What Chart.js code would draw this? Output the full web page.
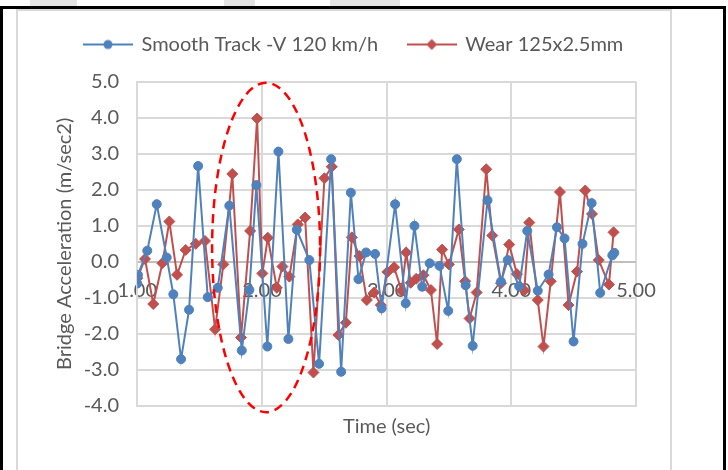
<!DOCTYPE html>
<html><head><meta charset="utf-8">
<script src="https://cdn.jsdelivr.net/npm/chart.js@4"></script>
<style>
html,body{margin:0;padding:0;background:#fff;width:728px;height:470px;overflow:hidden;}
#wrap{position:relative;width:728px;height:470px;}
.blob{position:absolute;top:0;height:7px;background:#e4e4e4;}
#frame{position:absolute;left:0;top:6px;width:726px;height:490px;border:3px solid #000;box-sizing:border-box;}
#inner{position:absolute;left:16px;top:9px;width:656px;height:490px;border:2px solid #d9d9d9;box-sizing:border-box;}
canvas{position:absolute;left:0;top:0;}
</style></head><body>
<div id="wrap">
<div class="blob" style="left:30px;width:47px"></div>
<div class="blob" style="left:224px;width:31px"></div>
<div class="blob" style="left:330px;width:70px"></div>
<div id="frame"></div><div id="inner"></div>
<canvas id="c" width="728" height="470"></canvas>
</div>
<script>
// ---- data ----
const seriesNames = ['Smooth Track -V 120 km/h', 'Wear 125x2.5mm'];
const blueTime = [1.000,1.005,1.080,1.156,1.236,1.289,1.351,1.415,1.488,1.565,1.645,1.738,1.838,1.899,1.955,2.043,2.132,2.212,2.279,2.380,2.458,2.555,2.635,2.713,2.774,2.835,2.907,2.960,3.068,3.153,3.223,3.285,3.345,3.424,3.494,3.563,3.634,3.690,3.809,3.917,3.971,4.063,4.128,4.212,4.299,4.366,4.427,4.499,4.571,4.644,4.713,4.810,4.826];
const blueAcc = [-0.60,-0.36,0.31,1.60,0.12,-0.90,-2.70,-1.33,2.66,-0.98,-0.72,1.56,-2.46,-0.78,2.13,-2.35,3.06,-2.14,0.89,0.05,-2.83,2.85,-3.05,1.92,-0.48,0.26,0.22,-1.29,1.60,-1.15,1.00,-0.69,-0.04,-0.11,-1.36,2.85,-0.65,-2.33,1.71,-0.55,0.05,-0.68,0.86,-0.80,-0.35,0.96,0.65,-2.21,0.50,1.63,-0.86,0.18,0.25];
const redTime = [1.000,1.062,1.128,1.201,1.257,1.319,1.388,1.469,1.543,1.624,1.690,1.762,1.832,1.905,1.961,2.003,2.047,2.119,2.164,2.220,2.287,2.346,2.413,2.501,2.560,2.613,2.673,2.721,2.782,2.841,2.900,2.953,3.006,3.060,3.120,3.157,3.193,3.237,3.295,3.355,3.405,3.445,3.499,3.579,3.630,3.665,3.722,3.799,3.847,3.917,3.983,4.045,4.104,4.144,4.212,4.258,4.316,4.390,4.459,4.527,4.593,4.647,4.701,4.783,4.820];
const redAcc = [-0.45,0.08,-1.17,-0.04,1.12,-0.36,0.33,0.50,0.58,-1.87,-0.07,2.44,-2.10,0.86,3.98,-0.32,0.67,-0.72,-0.13,-0.41,1.04,1.23,-3.07,2.32,2.64,-2.03,-1.69,0.68,0.16,-1.06,-0.85,-1.20,-0.28,-0.15,-0.80,0.26,-0.58,-0.47,-0.37,-0.78,-2.28,0.34,-0.07,0.90,-0.54,-1.57,-0.85,2.57,0.73,-0.59,0.48,-0.34,-0.79,1.09,-1.06,-2.35,-0.54,1.94,-1.20,-0.27,1.98,1.33,0.05,-0.63,0.82];
const xTickMin = 1, xTickMax = 5, yTickMin = -4, yTickMax = 5;
const xTitle = 'Time (sec)';
const yTitle = 'Bridge Acceleration (m/sec2)';
// highlighted region (dashed ellipse) in data units
const ellipseCenterT = 2.033, ellipseCenterV = 0.40, ellipseRadiusT = 0.433, ellipseRadiusV = 4.57;

// ---- styling ----
const BLUE = '#4F81BD', RED = '#C0504D', TXT = '#595959', GRID = '#d9d9d9';
const FONT = {family: 'Lato', size: 20};

function legendImg(color, style, r) {
  const c = document.createElement('canvas');
  c.width = 50; c.height = 14;
  const g = c.getContext('2d');
  g.strokeStyle = color; g.lineWidth = 2;
  g.beginPath(); g.moveTo(0, 7); g.lineTo(50, 7); g.stroke();
  g.fillStyle = color; g.beginPath();
  if (style === 'circle') { g.arc(25, 7, r, 0, Math.PI * 2); }
  else { g.moveTo(25, 7 - r); g.lineTo(25 + r, 7); g.lineTo(25, 7 + r); g.lineTo(25 - r, 7); g.closePath(); }
  g.fill();
  return c;
}
const legendImgs = [legendImg(BLUE, 'circle', 4.5), legendImg(RED, 'diamond', 5.5)];

const legendGap = {
  id: 'legendGap',
  beforeLayout(chart) {
    const lg = chart.legend;
    if (lg && !lg._gapPatched) {
      const orig = lg.fit;
      lg.fit = function () {
        this.maxWidth = Math.max(this.maxWidth, 900);
        orig.call(this);
        this.height += 17.2;
      };
      lg._gapPatched = true;
    }
  },
  afterLayout(chart) {
    const lg = chart.legend;
    if (lg) { lg.right = chart.width; lg.width = lg.right - lg.left; }
  }
};

const ellipseOverlay = {
  id: 'ellipseOverlay',
  afterDatasetsDraw(chart) {
    const {x, y} = chart.scales;
    const g = chart.ctx;
    const cx = x.getPixelForValue(ellipseCenterT), cy = y.getPixelForValue(ellipseCenterV);
    const rx = Math.abs(x.getPixelForValue(ellipseCenterT + ellipseRadiusT) - cx);
    const ry = Math.abs(y.getPixelForValue(ellipseCenterV + ellipseRadiusV) - cy);
    g.save();
    g.setLineDash([9, 6]);
    g.strokeStyle = '#ff0000';
    g.lineWidth = 2.5;
    g.beginPath();
    g.ellipse(cx, cy, rx, ry, 0, 0, Math.PI * 2);
    g.stroke();
    g.restore();
  }
};

new Chart(document.getElementById('c'), {
  type: 'scatter',
  data: {
    datasets: [
      {
        label: seriesNames[0],
        data: blueTime.map((t, i) => ({x: t, y: blueAcc[i]})),
        showLine: true, tension: 0,
        borderColor: BLUE, backgroundColor: BLUE, borderWidth: 2,
        pointStyle: 'circle', pointRadius: 4.5, pointBorderWidth: 1, pointBorderColor: BLUE, pointBackgroundColor: BLUE
      },
      {
        label: seriesNames[1],
        data: redTime.map((t, i) => ({x: t, y: redAcc[i]})),
        showLine: true, tension: 0,
        borderColor: RED, backgroundColor: RED, borderWidth: 2,
        pointStyle: 'rectRot', pointRadius: 5.5, pointBorderWidth: 1, pointBorderColor: RED, pointBackgroundColor: RED
      }
    ]
  },
  options: {
    responsive: false,
    animation: false,
    devicePixelRatio: 1,
    layout: {padding: {left: 54.5, top: 4.5, right: 92, bottom: 0}},
    plugins: {
      tooltip: {enabled: false},
      legend: {
        position: 'top', align: 'start',
        labels: {
          usePointStyle: true, pointStyleWidth: 47, padding: 30,
          color: TXT, font: FONT,
          generateLabels(chart) {
            const items = Chart.defaults.plugins.legend.labels.generateLabels(chart);
            items.forEach((it, i) => { it.pointStyle = legendImgs[i]; });
            return items;
          }
        }
      }
    },
    scales: {
      x: {
        type: 'linear', position: 'bottom', min: xTickMin, max: xTickMax,
        ticks: {stepSize: 1, callback: v => Number(v).toFixed(2), mirror: true, padding: 103.5, color: TXT, font: FONT, maxRotation: 0},
        grid: {color: GRID, lineWidth: 2, drawTicks: false},
        border: {color: GRID, width: 2},
        title: {display: true, text: xTitle, color: TXT, font: FONT, padding: {top: 0, bottom: 31}},
        afterFit(s) { s.height = 64; s.paddingLeft = 0; s.paddingRight = 0; }
      },
      y: {
        type: 'linear', min: yTickMin, max: yTickMax,
        ticks: {stepSize: 1, callback: v => Number(v).toFixed(1), padding: 18.3, color: TXT, font: FONT},
        grid: {color: c => (c.tick && c.tick.value === 0 ? '#bfbfbf' : GRID), lineWidth: 2, drawTicks: false},
        border: {color: GRID, width: 2},
        title: {display: true, text: yTitle, color: TXT, font: FONT, padding: {top: -1.5, bottom: 0}},
        afterFit(s) { s.width = 82.8; }
      }
    }
  },
  plugins: [legendGap, ellipseOverlay]
});
</script>
</body></html>
